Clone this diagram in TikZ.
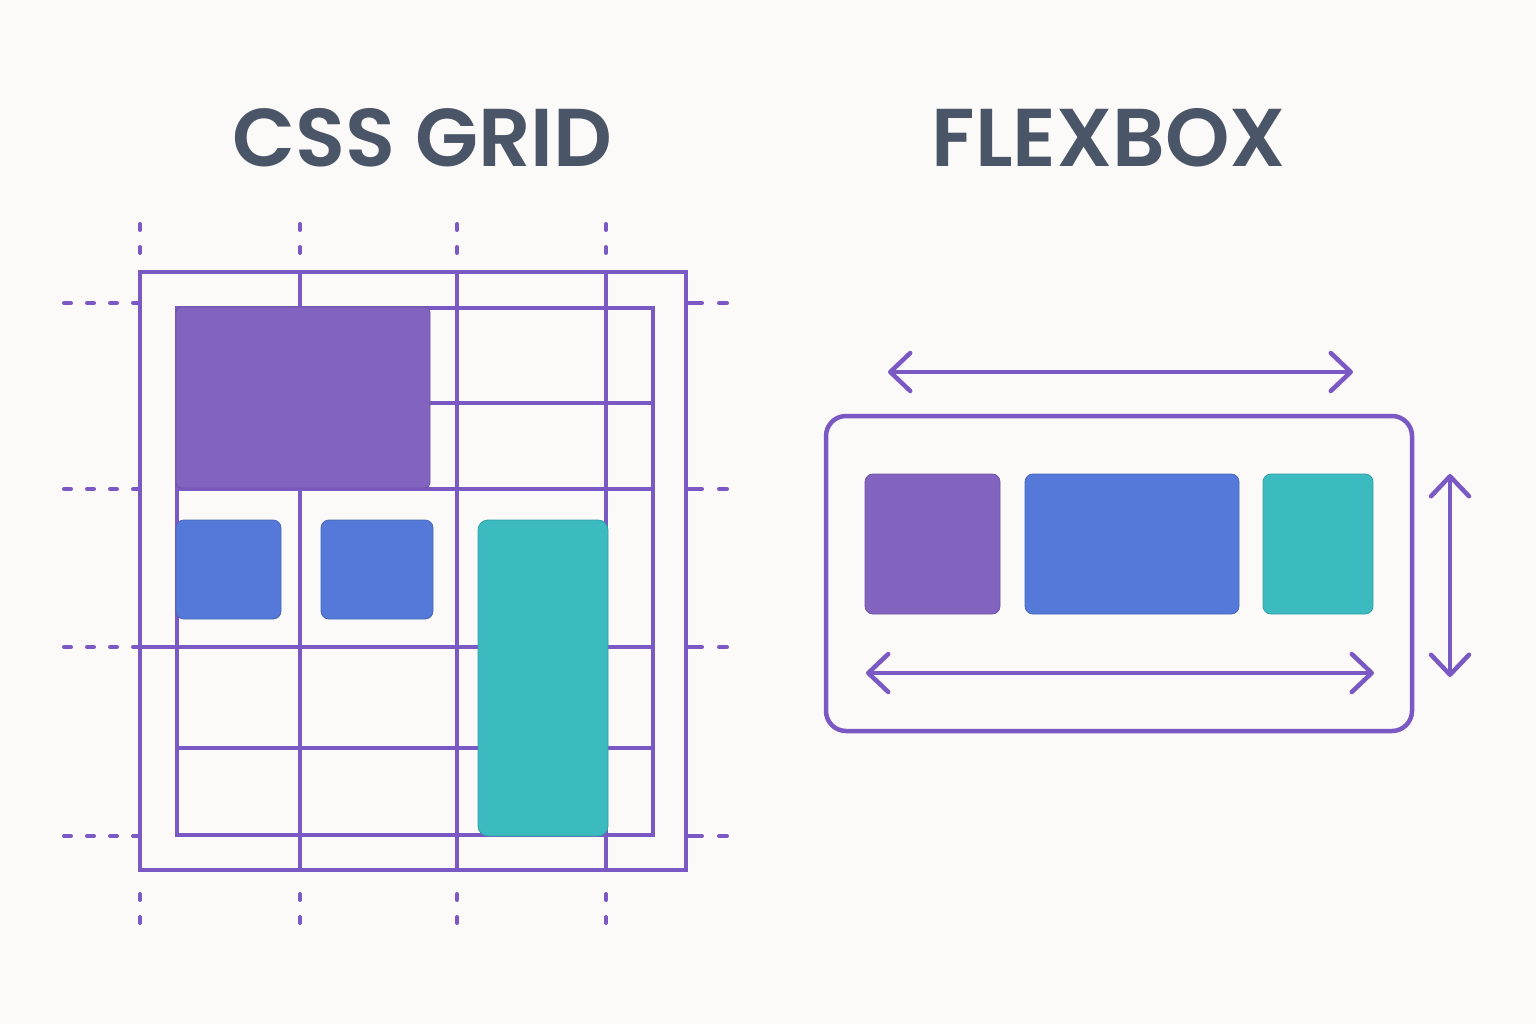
\documentclass[tikz,border=0pt]{standalone}
\usepackage{fontspec}
\setmainfont{Poppins}[BoldFont={Poppins SemiBold}]
\usetikzlibrary{arrows.meta}
\definecolor{bg}{HTML}{FCFAF8}
\definecolor{gline}{HTML}{7A59C4}
\definecolor{pfill}{HTML}{8264C0}
\definecolor{bfill}{HTML}{5479D9}
\definecolor{tfill}{HTML}{3BBBC0}
\definecolor{ttl}{HTML}{4A5568}
\begin{document}
\begin{tikzpicture}[x=1pt,y=-1pt,
  gridline/.style={draw=gline,line width=4pt},
  hguide/.style={draw=gline,line width=4pt,line cap=round,dash pattern=on 7pt off 16pt},
  rguide/.style={draw=gline,line width=4pt,line cap=round,dash pattern=on 16pt off 17pt},
  vguide/.style={draw=gline,line width=4pt,line cap=round,dash pattern=on 6pt off 17pt},
  pbox/.style={fill=pfill,draw=pfill!85!black,line width=0.8pt},
  bbox/.style={fill=bfill,draw=bfill!85!black,line width=0.8pt},
  tbox/.style={fill=tfill,draw=tfill!85!black,line width=0.8pt},
  title/.style={text=ttl,font=\fontsize{82}{90}\selectfont\bfseries,anchor=base,inner sep=0pt},
  dblarrow/.style={draw=gline,line width=4.5pt,line cap=round,
    {Straight Barb[length=20pt,width=38pt,round]}-{Straight Barb[length=20pt,width=38pt,round]}}
]
\fill[bg] (0,0) rectangle (1536,1024);
\useasboundingbox (0,0) rectangle (1536,1024);

% titles
\node[title] (tgrid) at (422.5,167) {CSS GRID};
\node[title] (tflex) at (1109,167) {FLEXBOX};

% ---------- CSS grid ----------
\draw[gridline] (140,272) rectangle (686,870);
\draw[gridline] (177,308) rectangle (653,835);
\foreach \x in {300,457,606} \draw[gridline] (\x,272) -- (\x,870);
\draw[gridline] (430,403) -- (653,403);
\draw[gridline] (177,489) -- (653,489);
\draw[gridline] (140,647) -- (653,647);
\draw[gridline] (177,748) -- (653,748);

% items
\path[pbox,rounded corners=5pt] (176,307) rectangle (430,488);
\path[bbox,rounded corners=8pt] (176,520) rectangle (281,619);
\path[bbox,rounded corners=8pt] (321,520) rectangle (433,619);
\path[tbox,rounded corners=10pt] (478,520) rectangle (608,836);

% guides
\foreach \y in {303,489,647,836} {
  \draw[hguide] (64,\y) -- (140,\y);
  \draw[rguide] (686,\y) -- (727,\y);
}
\foreach \x in {140,300,457,606} {
  \draw[vguide] (\x,224) -- (\x,254);
  \draw[vguide] (\x,894) -- (\x,924);
}

% ---------- Flexbox ----------
\draw[draw=gline,line width=4.5pt,rounded corners=20pt] (826,416) rectangle (1412,731);
\path[pbox,rounded corners=8pt] (865,474) rectangle (1000,614);
\path[bbox,rounded corners=8pt] (1025,474) rectangle (1239,614);
\path[tbox,rounded corners=8pt] (1263,474) rectangle (1373,614);

\coordinate (ta) at (888,372);
\coordinate (tb) at (1353,372);
\coordinate (ba) at (866,673);
\coordinate (bb) at (1374,673);
\coordinate (va) at (1450,474);
\coordinate (vb) at (1450,677);
\draw[dblarrow] (ta) -- (tb);
\draw[dblarrow] (ba) -- (bb);
\draw[dblarrow] (va) -- (vb);
\end{tikzpicture}
\end{document}
